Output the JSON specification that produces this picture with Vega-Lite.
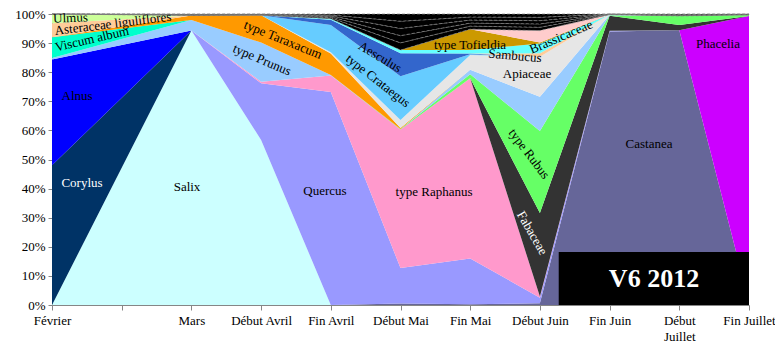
{
  "$schema": "https://vega.github.io/schema/vega-lite/v6.json",
  "width": 697,
  "height": 291,
  "autosize": "none",
  "padding": {"left": 52, "top": 14, "right": 26, "bottom": 42},
  "background": "white",
  "config": {
    "view": {"stroke": null},
    "font": "Liberation Serif",
    "axis": {"domainColor": "#868686", "tickColor": "#868686", "labelColor": "#000000", "labelFont": "Liberation Serif", "labelFontSize": 13, "grid": false, "title": null, "zindex": 1, "labelOverlap": false, "labelFlush": false},
    "axisX": {"tickSize": 5, "labelPadding": 4, "labelBaseline": "top", "labelLineHeight": 16},
    "axisY": {"tickSize": 4, "labelPadding": 3}
  },
  "datasets": {
    "pollen": [
      {"t":0,"s":"Castanea","v":0},{"t":2,"s":"Castanea","v":0},{"t":3,"s":"Castanea","v":0},{"t":4,"s":"Castanea","v":0},{"t":5,"s":"Castanea","v":0.5},{"t":6,"s":"Castanea","v":0.3},{"t":7,"s":"Castanea","v":0.6},{"t":8,"s":"Castanea","v":94.1},{"t":9,"s":"Castanea","v":94.4},{"t":10,"s":"Castanea","v":1},
      {"t":0,"s":"Salix","v":0},{"t":2,"s":"Salix","v":94.3},{"t":3,"s":"Salix","v":56.7},{"t":4,"s":"Salix","v":0},{"t":5,"s":"Salix","v":0},{"t":6,"s":"Salix","v":0},{"t":7,"s":"Salix","v":0},{"t":8,"s":"Salix","v":0},{"t":9,"s":"Salix","v":0},{"t":10,"s":"Salix","v":0},
      {"t":0,"s":"Quercus","v":0},{"t":2,"s":"Quercus","v":0},{"t":3,"s":"Quercus","v":19.5},{"t":4,"s":"Quercus","v":73.3},{"t":5,"s":"Quercus","v":12.2},{"t":6,"s":"Quercus","v":15.7},{"t":7,"s":"Quercus","v":1.9},{"t":8,"s":"Quercus","v":0.2},{"t":9,"s":"Quercus","v":0},{"t":10,"s":"Quercus","v":0},
      {"t":0,"s":"type Raphanus","v":0},{"t":2,"s":"type Raphanus","v":0},{"t":3,"s":"type Raphanus","v":0.5},{"t":4,"s":"type Raphanus","v":5.7},{"t":5,"s":"type Raphanus","v":47.6},{"t":6,"s":"type Raphanus","v":61.9},{"t":7,"s":"type Raphanus","v":0.4},{"t":8,"s":"type Raphanus","v":0},{"t":9,"s":"type Raphanus","v":0},{"t":10,"s":"type Raphanus","v":0},
      {"t":0,"s":"Phacelia","v":0},{"t":2,"s":"Phacelia","v":0},{"t":3,"s":"Phacelia","v":0},{"t":4,"s":"Phacelia","v":0},{"t":5,"s":"Phacelia","v":0},{"t":6,"s":"Phacelia","v":0},{"t":7,"s":"Phacelia","v":0},{"t":8,"s":"Phacelia","v":0},{"t":9,"s":"Phacelia","v":0},{"t":10,"s":"Phacelia","v":98.3},
      {"t":0,"s":"Fabaceae","v":0},{"t":2,"s":"Fabaceae","v":0},{"t":3,"s":"Fabaceae","v":0},{"t":4,"s":"Fabaceae","v":0},{"t":5,"s":"Fabaceae","v":0},{"t":6,"s":"Fabaceae","v":0},{"t":7,"s":"Fabaceae","v":28.7},{"t":8,"s":"Fabaceae","v":5.2},{"t":9,"s":"Fabaceae","v":1.8},{"t":10,"s":"Fabaceae","v":0},
      {"t":0,"s":"type Rubus","v":0},{"t":2,"s":"type Rubus","v":0},{"t":3,"s":"type Rubus","v":0},{"t":4,"s":"type Rubus","v":0},{"t":5,"s":"type Rubus","v":0.2},{"t":6,"s":"type Rubus","v":1.4},{"t":7,"s":"type Rubus","v":28.2},{"t":8,"s":"type Rubus","v":0.2},{"t":9,"s":"type Rubus","v":3.1},{"t":10,"s":"type Rubus","v":0.4},
      {"t":0,"s":"Corylus","v":48},{"t":2,"s":"Corylus","v":0},{"t":3,"s":"Corylus","v":0},{"t":4,"s":"Corylus","v":0},{"t":5,"s":"Corylus","v":0},{"t":6,"s":"Corylus","v":0},{"t":7,"s":"Corylus","v":0},{"t":8,"s":"Corylus","v":0},{"t":9,"s":"Corylus","v":0},{"t":10,"s":"Corylus","v":0},
      {"t":0,"s":"Alnus","v":36.4},{"t":2,"s":"Alnus","v":0},{"t":3,"s":"Alnus","v":0},{"t":4,"s":"Alnus","v":0},{"t":5,"s":"Alnus","v":0},{"t":6,"s":"Alnus","v":0},{"t":7,"s":"Alnus","v":0},{"t":8,"s":"Alnus","v":0},{"t":9,"s":"Alnus","v":0},{"t":10,"s":"Alnus","v":0},
      {"t":0,"s":"type Prunus","v":0.5},{"t":2,"s":"type Prunus","v":3.6},{"t":3,"s":"type Prunus","v":13.5},{"t":4,"s":"type Prunus","v":0.2},{"t":5,"s":"type Prunus","v":0},{"t":6,"s":"type Prunus","v":1.5},{"t":7,"s":"type Prunus","v":11.8},{"t":8,"s":"type Prunus","v":0.1},{"t":9,"s":"type Prunus","v":0},{"t":10,"s":"type Prunus","v":0},
      {"t":0,"s":"Viscum album","v":7.1},{"t":2,"s":"Viscum album","v":0},{"t":3,"s":"Viscum album","v":0},{"t":4,"s":"Viscum album","v":0},{"t":5,"s":"Viscum album","v":0},{"t":6,"s":"Viscum album","v":0},{"t":7,"s":"Viscum album","v":0},{"t":8,"s":"Viscum album","v":0},{"t":9,"s":"Viscum album","v":0},{"t":10,"s":"Viscum album","v":0},
      {"t":0,"s":"type Taraxacum","v":0},{"t":2,"s":"type Taraxacum","v":1.6},{"t":3,"s":"type Taraxacum","v":9.4},{"t":4,"s":"type Taraxacum","v":7.4},{"t":5,"s":"type Taraxacum","v":0.3},{"t":6,"s":"type Taraxacum","v":0},{"t":7,"s":"type Taraxacum","v":0},{"t":8,"s":"type Taraxacum","v":0},{"t":9,"s":"type Taraxacum","v":0},{"t":10,"s":"type Taraxacum","v":0},
      {"t":0,"s":"Apiaceae","v":0},{"t":2,"s":"Apiaceae","v":0},{"t":3,"s":"Apiaceae","v":0},{"t":4,"s":"Apiaceae","v":0.4},{"t":5,"s":"Apiaceae","v":2.8},{"t":6,"s":"Apiaceae","v":5.1},{"t":7,"s":"Apiaceae","v":13.7},{"t":8,"s":"Apiaceae","v":0.1},{"t":9,"s":"Apiaceae","v":0},{"t":10,"s":"Apiaceae","v":0},
      {"t":0,"s":"type Crataegus","v":0},{"t":2,"s":"type Crataegus","v":0},{"t":3,"s":"type Crataegus","v":0},{"t":4,"s":"type Crataegus","v":9.4},{"t":5,"s":"type Crataegus","v":15},{"t":6,"s":"type Crataegus","v":0.3},{"t":7,"s":"type Crataegus","v":0},{"t":8,"s":"type Crataegus","v":0},{"t":9,"s":"type Crataegus","v":0},{"t":10,"s":"type Crataegus","v":0},
      {"t":0,"s":"Aesculus","v":0},{"t":2,"s":"Aesculus","v":0},{"t":3,"s":"Aesculus","v":0},{"t":4,"s":"Aesculus","v":1.8},{"t":5,"s":"Aesculus","v":7.9},{"t":6,"s":"Aesculus","v":0.2},{"t":7,"s":"Aesculus","v":0},{"t":8,"s":"Aesculus","v":0},{"t":9,"s":"Aesculus","v":0},{"t":10,"s":"Aesculus","v":0},
      {"t":0,"s":"Asteraceae liguliflores","v":4.8},{"t":2,"s":"Asteraceae liguliflores","v":0},{"t":3,"s":"Asteraceae liguliflores","v":0},{"t":4,"s":"Asteraceae liguliflores","v":0},{"t":5,"s":"Asteraceae liguliflores","v":0},{"t":6,"s":"Asteraceae liguliflores","v":0},{"t":7,"s":"Asteraceae liguliflores","v":1.2},{"t":8,"s":"Asteraceae liguliflores","v":0},{"t":9,"s":"Asteraceae liguliflores","v":0},{"t":10,"s":"Asteraceae liguliflores","v":0},
      {"t":0,"s":"Ulmus","v":3.2},{"t":2,"s":"Ulmus","v":0},{"t":3,"s":"Ulmus","v":0},{"t":4,"s":"Ulmus","v":0},{"t":5,"s":"Ulmus","v":0},{"t":6,"s":"Ulmus","v":0},{"t":7,"s":"Ulmus","v":0},{"t":8,"s":"Ulmus","v":0},{"t":9,"s":"Ulmus","v":0},{"t":10,"s":"Ulmus","v":0},
      {"t":0,"s":"Sambucus","v":0},{"t":2,"s":"Sambucus","v":0},{"t":3,"s":"Sambucus","v":0},{"t":4,"s":"Sambucus","v":0.4},{"t":5,"s":"Sambucus","v":1.1},{"t":6,"s":"Sambucus","v":1.2},{"t":7,"s":"Sambucus","v":3.4},{"t":8,"s":"Sambucus","v":0},{"t":9,"s":"Sambucus","v":0},{"t":10,"s":"Sambucus","v":0},
      {"t":0,"s":"type Tofieldia","v":0},{"t":2,"s":"type Tofieldia","v":0},{"t":3,"s":"type Tofieldia","v":0},{"t":4,"s":"type Tofieldia","v":0},{"t":5,"s":"type Tofieldia","v":0},{"t":6,"s":"type Tofieldia","v":7.2},{"t":7,"s":"type Tofieldia","v":0.3},{"t":8,"s":"type Tofieldia","v":0},{"t":9,"s":"type Tofieldia","v":0},{"t":10,"s":"type Tofieldia","v":0},
      {"t":0,"s":"Brassicaceae","v":0},{"t":2,"s":"Brassicaceae","v":0},{"t":3,"s":"Brassicaceae","v":0},{"t":4,"s":"Brassicaceae","v":0},{"t":5,"s":"Brassicaceae","v":0},{"t":6,"s":"Brassicaceae","v":0},{"t":7,"s":"Brassicaceae","v":4.1},{"t":8,"s":"Brassicaceae","v":0},{"t":9,"s":"Brassicaceae","v":0},{"t":10,"s":"Brassicaceae","v":0},
      {"t":0,"s":"Autres 1","v":0},{"t":2,"s":"Autres 1","v":0.1},{"t":3,"s":"Autres 1","v":0.08},{"t":4,"s":"Autres 1","v":0.32},{"t":5,"s":"Autres 1","v":2.48},{"t":6,"s":"Autres 1","v":1.04},{"t":7,"s":"Autres 1","v":1.14},{"t":8,"s":"Autres 1","v":0.04},{"t":9,"s":"Autres 1","v":0.14},{"t":10,"s":"Autres 1","v":0.06},
      {"t":0,"s":"Autres 2","v":0},{"t":2,"s":"Autres 2","v":0.1},{"t":3,"s":"Autres 2","v":0.08},{"t":4,"s":"Autres 2","v":0.32},{"t":5,"s":"Autres 2","v":2.48},{"t":6,"s":"Autres 2","v":1.04},{"t":7,"s":"Autres 2","v":1.14},{"t":8,"s":"Autres 2","v":0.04},{"t":9,"s":"Autres 2","v":0.14},{"t":10,"s":"Autres 2","v":0.06},
      {"t":0,"s":"Autres 3","v":0},{"t":2,"s":"Autres 3","v":0.1},{"t":3,"s":"Autres 3","v":0.08},{"t":4,"s":"Autres 3","v":0.32},{"t":5,"s":"Autres 3","v":2.48},{"t":6,"s":"Autres 3","v":1.04},{"t":7,"s":"Autres 3","v":1.14},{"t":8,"s":"Autres 3","v":0.04},{"t":9,"s":"Autres 3","v":0.14},{"t":10,"s":"Autres 3","v":0.06},
      {"t":0,"s":"Autres 4","v":0},{"t":2,"s":"Autres 4","v":0.1},{"t":3,"s":"Autres 4","v":0.08},{"t":4,"s":"Autres 4","v":0.32},{"t":5,"s":"Autres 4","v":2.48},{"t":6,"s":"Autres 4","v":1.04},{"t":7,"s":"Autres 4","v":1.14},{"t":8,"s":"Autres 4","v":0.04},{"t":9,"s":"Autres 4","v":0.14},{"t":10,"s":"Autres 4","v":0.06},
      {"t":0,"s":"Autres 5","v":0},{"t":2,"s":"Autres 5","v":0.1},{"t":3,"s":"Autres 5","v":0.08},{"t":4,"s":"Autres 5","v":0.32},{"t":5,"s":"Autres 5","v":2.48},{"t":6,"s":"Autres 5","v":1.04},{"t":7,"s":"Autres 5","v":1.14},{"t":8,"s":"Autres 5","v":0.04},{"t":9,"s":"Autres 5","v":0.14},{"t":10,"s":"Autres 5","v":0.06}
    ],
    "labels": [
      {"label":"Ulmus","x":0.265,"y":0.986},
      {"label":"Asteraceae liguliflores","x":0.875,"y":0.966},
      {"label":"Viscum album","x":0.574,"y":0.914},
      {"label":"Alnus","x":0.359,"y":0.718},
      {"label":"Corylus","x":0.43,"y":0.419},
      {"label":"Salix","x":1.937,"y":0.405},
      {"label":"type Taraxacum","x":3.314,"y":0.911},
      {"label":"type Prunus","x":3.013,"y":0.842},
      {"label":"Aesculus","x":4.706,"y":0.852},
      {"label":"type Crataegus","x":4.677,"y":0.77},
      {"label":"type Tofieldia","x":5.997,"y":0.893},
      {"label":"Sambucus","x":6.643,"y":0.856},
      {"label":"Brassicaceae","x":7.303,"y":0.921},
      {"label":"Apiaceae","x":6.815,"y":0.794},
      {"label":"type Rubus","x":6.844,"y":0.519},
      {"label":"Fabaceae","x":6.887,"y":0.247},
      {"label":"Castanea","x":8.565,"y":0.553},
      {"label":"Phacelia","x":9.555,"y":0.897},
      {"label":"Quercus","x":3.917,"y":0.392},
      {"label":"type Raphanus","x":5.481,"y":0.388}
    ],
    "box": [
      {"x":7.27,"x2":10,"y":0,"y2":0.182,"text":"V6 2012","tx":8.637,"ty":0.089}
    ]
  },
  "encoding": {
    "x": {"type": "quantitative", "scale": {"domain": [0, 10], "nice": false, "zero": false},
      "axis": {"values": [0,1,2,3,4,5,6,7,8,9,10],
        "labelExpr": "[['Février'],[''],['Mars'],['Début Avril'],['Fin Avril'],['Début Mai'],['Fin Mai'],['Début Juin'],['Fin Juin'],['Début','Juillet'],['Fin Juillet']][datum.value]"}},
    "y": {"type": "quantitative", "scale": {"domain": [0, 1], "nice": false},
      "axis": {"values": [0,0.1,0.2,0.3,0.4,0.5,0.6,0.7,0.8,0.9,1], "format": ".0%"}}
  },
  "layer": [
    {
      "data": {"name": "pollen"},
      "transform": [
        {"calculate": "indexof(['Castanea','Salix','Quercus','type Raphanus','Phacelia','Fabaceae','type Rubus','Corylus','Alnus','type Prunus','Viscum album','type Taraxacum','Apiaceae','type Crataegus','Aesculus','Asteraceae liguliflores','Ulmus','Sambucus','type Tofieldia','Brassicaceae','Autres 1','Autres 2','Autres 3','Autres 4','Autres 5'], datum.s)", "as": "k"}
      ],
      "mark": {"type": "area", "interpolate": "linear", "strokeWidth": 0.7, "strokeDash": [3, 2]},
      "encoding": {
        "x": {"field": "t"},
        "y": {"field": "v", "stack": "normalize"},
        "order": {"field": "k", "type": "quantitative", "sort": "ascending"},
        "stroke": {"condition": {"test": "indexof(datum.s, 'Autres') === 0", "value": "#8a8a8a"}, "value": "transparent"},
        "color": {"field": "s", "type": "nominal", "legend": null,
          "scale": {
            "domain": ["Castanea","Salix","Quercus","type Raphanus","Phacelia","Fabaceae","type Rubus","Corylus","Alnus","type Prunus","Viscum album","type Taraxacum","Apiaceae","type Crataegus","Aesculus","Asteraceae liguliflores","Ulmus","Sambucus","type Tofieldia","Brassicaceae","Autres 1","Autres 2","Autres 3","Autres 4","Autres 5"],
            "range": ["#666699","#CCFFFF","#9999FF","#FF99CC","#CC00FF","#333333","#66FF66","#003366","#0000FF","#99CCFF","#00FFCC","#FF9900","#E6E6E6","#66CCFF","#3366CC","#FFCC99","#CCFF99","#66FFFF","#CC9900","#FFCCCC","#000000","#000000","#000000","#000000","#000000"]
          }
        }
      }
    },
    {
      "data": {"name": "box"},
      "mark": {"type": "rect", "color": "#000000"},
      "encoding": {
        "x": {"field": "x"},
        "x2": {"field": "x2"},
        "y": {"field": "y"},
        "y2": {"field": "y2"}
      }
    },
    {
      "data": {"name": "box"},
      "mark": {"type": "text", "font": "Liberation Serif", "fontSize": 26, "fontWeight": "bold", "color": "#FFFFFF", "align": "center", "baseline": "middle"},
      "encoding": {
        "x": {"field": "tx"},
        "y": {"field": "ty"},
        "text": {"field": "text"}
      }
    },
    {
      "data": {"name": "labels"},
      "mark": {"type": "text", "font": "Liberation Serif", "fontSize": 13, "align": "center", "baseline": "middle"},
      "encoding": {
        "x": {"field": "x"},
        "y": {"field": "y"},
        "text": {"field": "label"},
        "angle": {"field": "label", "type": "nominal", "legend": null,
          "scale": {"type": "ordinal",
            "domain": ["Ulmus","Asteraceae liguliflores","Viscum album","Alnus","Corylus","Salix","type Taraxacum","type Prunus","Aesculus","type Crataegus","type Tofieldia","Sambucus","Brassicaceae","Apiaceae","type Rubus","Fabaceae","Castanea","Phacelia","Quercus","type Raphanus"],
            "range": [358,353,347,0,0,0,22,23,31,38,0,5,337,0,53,60,0,0,0,0]}},
        "color": {"field": "label", "type": "nominal", "legend": null,
          "scale": {
            "domain": ["Ulmus","Asteraceae liguliflores","Viscum album","Alnus","Corylus","Salix","type Taraxacum","type Prunus","Aesculus","type Crataegus","type Tofieldia","Sambucus","Brassicaceae","Apiaceae","type Rubus","Fabaceae","Castanea","Phacelia","Quercus","type Raphanus"],
            "range": ["#000000","#000000","#000000","#000000","#FFFFFF","#000000","#000000","#000000","#000000","#000000","#000000","#000000","#000000","#000000","#000000","#FFFFFF","#000000","#000000","#000000","#000000"]}}
      }
    }
  ],
  "resolve": {"scale": {"color": "independent", "angle": "independent"}}
}
